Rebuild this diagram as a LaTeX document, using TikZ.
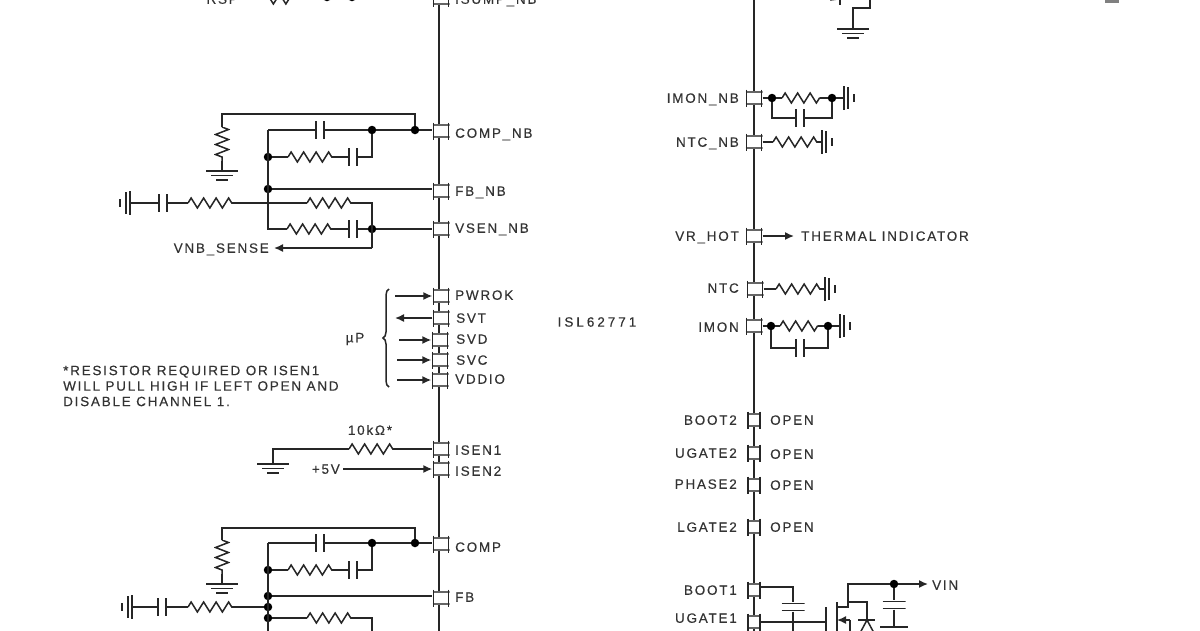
\documentclass[tikz,border=0pt]{standalone}
\usepackage{fontspec}
\setmainfont[LetterSpace=13,FakeBold=0.35]{Liberation Sans}
\usetikzlibrary{arrows.meta,decorations.pathmorphing,decorations.pathreplacing}
\begin{document}
\begin{tikzpicture}[
    x=1pt, y=-1pt,
    wire/.style={draw=black!85, line width=1.5pt},
    rail/.style={draw=black!85, line width=1.7pt},
    arrowwire/.style={wire, -{Latex[length=9pt,width=8pt]}},
    pinbox/.style={rectangle, minimum width=17pt, minimum height=17pt, inner sep=0pt, path picture={
        \fill[white] ([yshift=-2pt]path picture bounding box.north west) rectangle ([yshift=2pt]path picture bounding box.south east);
        \draw[wire, draw=black!60] ([yshift=-2.5pt]path picture bounding box.north west) -- ([yshift=-2.5pt]path picture bounding box.north east);
        \draw[wire, draw=black!60] ([yshift=2.5pt]path picture bounding box.south west) -- ([yshift=2.5pt]path picture bounding box.south east);
        \draw[wire] ([xshift=1pt]path picture bounding box.north west) -- ([xshift=1pt]path picture bounding box.south west);
        \draw[wire] ([xshift=-1pt]path picture bounding box.north east) -- ([xshift=-1pt]path picture bounding box.south east);}},
    smallpin/.style={pinbox, minimum width=14pt},
    dot/.style={circle, fill=black, minimum size=8.5pt, inner sep=0pt},
    txt/.style={text=black!80, font=\fontsize{13.5}{15}\selectfont, inner sep=0pt},
    rlabel/.style={txt, anchor=west, text height=9.5pt, text depth=0pt},
    llabel/.style={txt, anchor=east, text height=9.5pt, text depth=0pt},
    resh/.style={rectangle, minimum width=44pt, minimum height=14pt, inner sep=0pt, path picture={
        \draw[wire, decorate, decoration={zigzag, segment length=12.5pt, amplitude=5pt}] (path picture bounding box.west) -- (path picture bounding box.east);}},
    resv/.style={rectangle, minimum width=16pt, minimum height=34pt, inner sep=0pt, path picture={
        \draw[wire, decorate, decoration={zigzag, segment length=10pt, amplitude=6.5pt}] (path picture bounding box.north) -- (path picture bounding box.south);}},
    capv/.style={rectangle, minimum width=10pt, minimum height=18pt, inner sep=0pt, path picture={
        \draw[wire] ([xshift=1pt]path picture bounding box.north west) -- ([xshift=1pt]path picture bounding box.south west);
        \draw[wire] ([xshift=-1pt]path picture bounding box.north east) -- ([xshift=-1pt]path picture bounding box.south east);}},
    caph/.style={rectangle, minimum width=23pt, minimum height=9pt, inner sep=0pt, path picture={
        \draw[wire] ([yshift=-1pt]path picture bounding box.north west) -- ([yshift=-1pt]path picture bounding box.north east);
        \draw[wire] ([yshift=1pt]path picture bounding box.south west) -- ([yshift=1pt]path picture bounding box.south east);}},
    gnd/.style={rectangle, minimum width=32pt, minimum height=11pt, inner sep=0pt, anchor=north, path picture={
        \draw[wire] ([yshift=-1pt]path picture bounding box.north west) -- ([yshift=-1pt]path picture bounding box.north east);
        \draw[wire] ([xshift=5pt]path picture bounding box.west) -- ([xshift=-5pt]path picture bounding box.east);
        \draw[wire] ([xshift=10pt,yshift=1pt]path picture bounding box.south west) -- ([xshift=-10pt,yshift=1pt]path picture bounding box.south east);}},
    gndleft/.style={rectangle, minimum width=12pt, minimum height=24pt, inner sep=0pt, anchor=east, path picture={
        \draw[wire] ([xshift=-1pt]path picture bounding box.north east) -- ([xshift=-1pt]path picture bounding box.south east);
        \draw[wire] ([xshift=-5pt,yshift=-1pt]path picture bounding box.north east) -- ([xshift=-5pt,yshift=1pt]path picture bounding box.south east);
        \draw[wire, line width=2pt] ([xshift=1pt,yshift=-8pt]path picture bounding box.north west) -- ([xshift=1pt,yshift=8pt]path picture bounding box.south west);}},
    gndright/.style={rectangle, minimum width=12pt, minimum height=24pt, inner sep=0pt, anchor=west, path picture={
        \draw[wire] ([xshift=1pt]path picture bounding box.north west) -- ([xshift=1pt]path picture bounding box.south west);
        \draw[wire] ([xshift=5pt,yshift=-1pt]path picture bounding box.north west) -- ([xshift=5pt,yshift=1pt]path picture bounding box.south west);
        \draw[wire, line width=2pt] ([xshift=-1pt,yshift=-8pt]path picture bounding box.north east) -- ([xshift=-1pt,yshift=8pt]path picture bounding box.south east);}}
]
    \useasboundingbox (0,0) rectangle (1200,630);
    \clip (0,0) rectangle (1200,630);

    % rails behind the pins
    \coordinate (railltop) at (439,-10);
    \coordinate (raillbot) at (439,640);
    \coordinate (railrtop) at (754,-10);
    \coordinate (railrbot) at (754,640);
    \draw[rail] (railltop) -- (raillbot);
    \draw[rail] (railrtop) -- (railrbot);

    % left pins
    \node[pinbox] (isump) at (441,-2) {};
    \node[pinbox] (compnb) at (441,131) {};
    \node[pinbox] (fbnb) at (441,191) {};
    \node[pinbox] (vsennb) at (441,229) {};
    \node[pinbox] (pwrok) at (441,296) {};
    \node[pinbox] (svt) at (441,318) {};
    \node[pinbox] (svd) at (440,340) {};
    \node[pinbox] (svc) at (440,360) {};
    \node[pinbox] (vddio) at (440,380) {};
    \node[pinbox] (isen1) at (441,449) {};
    \node[pinbox] (isen2) at (441,469) {};
    \node[pinbox] (comp) at (441,544) {};
    \node[pinbox] (fb) at (441,598) {};

    \node[rlabel] (isumptxt) at (455,-1) {ISUMP\_NB};
    \node[rlabel] (compnbtxt) at (455,133) {COMP\_NB};
    \node[rlabel] (fbnbtxt) at (455,191) {FB\_NB};
    \node[rlabel] (vsennbtxt) at (455,228) {VSEN\_NB};
    \node[rlabel] (pwroktxt) at (455,295) {PWROK};
    \node[rlabel] (svttxt) at (456,318) {SVT};
    \node[rlabel] (svdtxt) at (456,339) {SVD};
    \node[rlabel] (svctxt) at (456,360) {SVC};
    \node[rlabel] (vddiotxt) at (455,379) {VDDIO};
    \node[rlabel] (isen1txt) at (455,450) {ISEN1};
    \node[rlabel] (isen2txt) at (455,471) {ISEN2};
    \node[rlabel] (comptxt) at (455,547) {COMP};
    \node[rlabel] (fbtxt) at (455,597) {FB};

    % top row, cut by the edge
    \node[llabel] (rsptxt) at (238,-1) {RSP};
    \node[resh, minimum width=36pt] (ressp) at (282,-1) {};
    \node[dot] (dtop1) at (327,-3) {};
    \node[dot] (dtop2) at (352,-3) {};
    \coordinate (wiretop) at (250,-1);
    \draw[wire] (wiretop) -- (ressp.west);
    \draw[wire] (ressp.east) -- (isump.west |- ressp);

    % COMP_NB network
    \coordinate (fbcnb) at (222,114);
    \coordinate (fbcnbr) at (415,114);
    \coordinate (nbleft) at (268,130);
    \coordinate (nbbot) at (268,229);
    \coordinate (nbrc) at (372,157);
    \coordinate (nbrr) at (372,203);
    \coordinate (nbsense) at (372,248);
    \node[resv] (rnbv) at (222,144) {};
    \node[gnd] (gndnbv) at (222,170) {};
    \node[capv] (cnb1) at (320,130) {};
    \node[dot] (dnb1) at (372,130) {};
    \node[dot] (dnb2) at (415,130) {};
    \node[dot] (dnb3) at (268,157) {};
    \node[resh] (rnb1) at (310,157) {};
    \node[capv] (cnb2) at (353,157) {};
    \node[dot] (dnb4) at (268,189) {};
    \node[gndleft] (gndnb) at (131,203) {};
    \node[capv] (cnb3) at (163,203) {};
    \node[resh] (rnb2) at (210,203) {};
    \node[resh] (rnb3) at (329,203) {};
    \node[resh] (rnb4) at (309,229) {};
    \node[capv] (cnb4) at (353,229) {};
    \node[dot] (dnb5) at (372,229) {};
    \node[llabel] (vnbtxt) at (269,248) {VNB\_SENSE};

    \draw[wire] (rnbv.north) -- (fbcnb) -- (fbcnbr) -- (dnb2);
    \draw[wire] (rnbv.south) -- (gndnbv.north);
    \draw[wire] (nbleft) -- (cnb1.west);
    \draw[wire] (cnb1.east) -- (dnb1) -- (dnb2) -- (dnb2 -| compnb.west);
    \draw[wire] (nbleft) -- (nbbot) -- (rnb4.west);
    \draw[wire] (dnb3) -- (rnb1.west);
    \draw[wire] (rnb1.east) -- (cnb2.west);
    \draw[wire] (cnb2.east) -- (nbrc) -- (dnb1);
    \draw[wire] (dnb4) -- (dnb4 -| fbnb.west);
    \draw[wire] (gndnb.east) -- (cnb3.west);
    \draw[wire] (cnb3.east) -- (rnb2.west);
    \draw[wire] (rnb2.east) -- (rnb3.west);
    \draw[wire] (rnb3.east) -- (nbrr) -- (nbsense);
    \draw[wire] (rnb4.east) -- (cnb4.west);
    \draw[wire] (cnb4.east) -- (dnb5) -- (vsennb.west);
    \draw[arrowwire, shorten >=5pt] (nbsense) -- (vnbtxt.east);

    % processor signals
    \coordinate (pwroka) at (395,296);
    \coordinate (svta) at (395,318);
    \coordinate (svda) at (399,340);
    \coordinate (svca) at (397,360);
    \coordinate (vddioa) at (397,380);
    \draw[arrowwire] (pwroka) -- (pwrok.west);
    \draw[arrowwire] (svt.west) -- (svta);
    \draw[arrowwire] (svda) -- (svd.west);
    \draw[arrowwire] (svca) -- (svc.west);
    \draw[arrowwire] (vddioa) -- (vddio.west);
    \coordinate (bracebot) at (389,387);
    \coordinate (bracetop) at (389,289);
    \draw[wire, decorate, decoration={brace, amplitude=6pt}] (bracebot) -- (bracetop);
    \node[txt] (uptxt) at (355,339) {µP};

    % note
    \node[txt, anchor=north west, align=left, font=\fontsize{13.5}{15.5}\selectfont] (notetxt) at (63,365.5) {*RESISTOR REQUIRED OR ISEN1\\WILL PULL HIGH IF LEFT OPEN AND\\DISABLE CHANNEL 1.};
    \node[txt, font=\fontsize{13.5}{15}\selectfont\addfontfeature{LetterSpace=22}] (chiptxt) at (597,322) {ISL62771};

    % ISEN pins
    \coordinate (gndisen) at (273,449);
    \node[gnd] (gndisenb) at (273,463) {};
    \node[resh] (risen) at (371,449) {};
    \node[txt] (rtxt) at (370,430) {10kΩ*};
    \node[llabel] (vtxt) at (340,469) {+5V};
    \draw[wire] (gndisenb.north) -- (gndisen) -- (risen.west);
    \draw[wire] (risen.east) -- (isen1.west);
    \draw[arrowwire, shorten <=3pt] (vtxt.east) -- (isen2.west);

    % COMP network
    \coordinate (fbc) at (222,528);
    \coordinate (fbcr) at (415,528);
    \coordinate (cleft) at (268,543);
    \coordinate (cbot) at (268,640);
    \coordinate (crc) at (372,570);
    \coordinate (crr) at (372,618);
    \coordinate (crrb) at (372,640);
    \node[resv] (rcv) at (222,557) {};
    \node[gnd] (gndcv) at (222,583) {};
    \node[capv] (cc1) at (320,543) {};
    \node[dot] (dc1) at (372,543) {};
    \node[dot] (dc2) at (415,543) {};
    \node[dot] (dc3) at (268,570) {};
    \node[resh] (rc1) at (310,570) {};
    \node[capv] (cc2) at (353,570) {};
    \node[dot] (dc4) at (268,596) {};
    \node[dot] (dc5) at (268,607) {};
    \node[dot] (dc6) at (268,618) {};
    \node[gndleft] (gndc) at (133,607) {};
    \node[capv] (cc3) at (162,607) {};
    \node[resh] (rc2) at (210,607) {};
    \node[resh] (rc3) at (329,618) {};

    \draw[wire] (rcv.north) -- (fbc) -- (fbcr) -- (dc2);
    \draw[wire] (rcv.south) -- (gndcv.north);
    \draw[wire] (cleft) -- (cc1.west);
    \draw[wire] (cc1.east) -- (dc1) -- (dc2) -- (dc2 -| comp.west);
    \draw[wire] (cleft) -- (cbot);
    \draw[wire] (dc3) -- (rc1.west);
    \draw[wire] (rc1.east) -- (cc2.west);
    \draw[wire] (cc2.east) -- (crc) -- (dc1);
    \draw[wire] (dc4) -- (dc4 -| fb.west);
    \draw[wire] (gndc.east) -- (cc3.west);
    \draw[wire] (cc3.east) -- (rc2.west);
    \draw[wire] (rc2.east) -- (dc5);
    \draw[wire] (dc6) -- (rc3.west);
    \draw[wire] (rc3.east) -- (crr) -- (crrb);

    % right pins
    \node[pinbox] (imonnb) at (754,98) {};
    \node[pinbox] (ntcnb) at (754,142) {};
    \node[pinbox] (vrhot) at (754,236) {};
    \node[pinbox] (ntc) at (755,289) {};
    \node[pinbox] (imon) at (754,326) {};
    \node[smallpin] (boot2) at (754,420) {};
    \node[smallpin] (ugate2) at (754,453) {};
    \node[smallpin] (phase2) at (754,485) {};
    \node[smallpin] (lgate2) at (754,527) {};
    \node[smallpin] (boot1) at (754,590) {};
    \node[smallpin] (ugate1) at (754,622) {};

    \node[llabel] (imonnbtxt) at (739,98) {IMON\_NB};
    \node[llabel] (ntcnbtxt) at (739,142) {NTC\_NB};
    \node[llabel] (vrhottxt) at (739,236) {VR\_HOT};
    \node[llabel] (ntctxt) at (739,288) {NTC};
    \node[llabel] (imontxt) at (739,327) {IMON};
    \node[llabel] (boot2txt) at (737,420) {BOOT2};
    \node[llabel] (ugate2txt) at (737,453) {UGATE2};
    \node[llabel] (phase2txt) at (737,484) {PHASE2};
    \node[llabel] (lgate2txt) at (737,527) {LGATE2};
    \node[llabel] (boot1txt) at (737,590) {BOOT1};
    \node[llabel] (ugate1txt) at (737,618) {UGATE1};
    \node[rlabel] (open2txt) at (770,420) {OPEN};
    \node[rlabel] (open3txt) at (770,454) {OPEN};
    \node[rlabel] (open4txt) at (770,485) {OPEN};
    \node[rlabel] (open5txt) at (770,527) {OPEN};
    \node[rlabel] (thermtxt) at (801,236) {THERMAL INDICATOR};

    % IMON_NB and NTC_NB
    \node[dot] (dim1) at (772,98) {};
    \node[resh, minimum width=38pt] (rim1) at (801,98) {};
    \node[dot] (dim2) at (832,98) {};
    \node[gndright] (gndim1) at (843,98) {};
    \coordinate (imbl) at (772,118);
    \coordinate (imbr) at (832,118);
    \node[capv] (cim1) at (800,118) {};
    \draw[wire] (imonnb.east) -- (dim1) -- (rim1.west);
    \draw[wire] (rim1.east) -- (dim2) -- (gndim1.west);
    \draw[wire] (dim1) -- (imbl) -- (cim1.west);
    \draw[wire] (cim1.east) -- (imbr) -- (dim2);
    \node[resh] (rntcnb) at (795,142) {};
    \node[gndright] (gndntcnb) at (821,142) {};
    \draw[wire] (ntcnb.east) -- (rntcnb.west);
    \draw[wire] (rntcnb.east) -- (gndntcnb.west);

    % VR_HOT
    \coordinate (hotend) at (794,236);
    \draw[arrowwire] (vrhot.east) -- (hotend);

    % NTC and IMON
    \node[resh] (rntc) at (798,289) {};
    \node[gndright] (gndntc) at (824,289) {};
    \draw[wire] (ntc.east) -- (rntc.west);
    \draw[wire] (rntc.east) -- (gndntc.west);
    \node[dot] (dim3) at (771,326) {};
    \node[resh, minimum width=38pt] (rim2) at (799,326) {};
    \node[dot] (dim4) at (828,326) {};
    \node[gndright] (gndim2) at (839,326) {};
    \coordinate (im2bl) at (771,348);
    \coordinate (im2br) at (828,348);
    \node[capv] (cim2) at (800,348) {};
    \draw[wire] (imon.east) -- (dim3) -- (rim2.west);
    \draw[wire] (rim2.east) -- (dim4) -- (gndim2.west);
    \draw[wire] (dim3) -- (im2bl) -- (cim2.west);
    \draw[wire] (cim2.east) -- (im2br) -- (dim4);

    % boot capacitor and high side switch
    \coordinate (bootc) at (793,587);
    \coordinate (bootb) at (793,640);
    \node[caph] (cboot) at (793,607) {};
    \draw[wire] (boot1.east |- bootc) -- (bootc) -- (cboot.north);
    \draw[wire] (cboot.south) -- (bootb);
    \coordinate (gatetop) at (826,607);
    \coordinate (gatebot) at (826,640);
    \coordinate (gatein) at (826,622);
    \coordinate (chtop) at (837,602);
    \coordinate (chbot) at (837,640);
    \coordinate (drainl) at (837,607);
    \coordinate (drainr) at (848,607);
    \coordinate (drainm) at (848,602);
    \coordinate (draint) at (848,584);
    \coordinate (diodeu) at (867,602);
    \coordinate (diodebar) at (867,620);
    \coordinate (diodel) at (858,620);
    \coordinate (diodem) at (875,620);
    \coordinate (sourcel) at (837,620);
    \coordinate (sourcer) at (850,620);
    \coordinate (sourceb) at (850,640);
    \node[dot] (dvin) at (894,584) {};
    \coordinate (vinend) at (928,584);
    \node[rlabel] (vintxt) at (932,585) {VIN};
    \node[caph] (cvin) at (894,605) {};
    \coordinate (vinb) at (894,627);
    \coordinate (vinbl) at (880,627);
    \coordinate (vinbr) at (908,627);
    \draw[wire, line width=1.8pt] (gatetop) -- (gatebot);
    \draw[wire] (ugate1.east) -- (gatein);
    \draw[wire, line width=1.8pt] (chtop) -- (chbot);
    \draw[wire] (drainl) -- (drainr) -- (draint) -- (dvin);
    \draw[arrowwire] (dvin) -- (vinend);
    \draw[wire] (drainm) -- (diodeu) -- (diodebar);
    \draw[wire] (diodel) -- (diodem);
    \draw[wire, fill=white] (diodebar) -- (860,633) -- (874,633) -- cycle;
    \draw[wire] (sourcer) -- (sourceb);
    \draw[arrowwire] (sourcer) -- (sourcel);
    \draw[wire] (dvin) -- (cvin.north);
    \draw[wire] (cvin.south) -- (vinb);
    \draw[wire, line width=1.8pt] (vinbl) -- (vinbr);

    % bits at the top edge on the right
    \coordinate (topa) at (840,-5);
    \coordinate (topb) at (840,5);
    \coordinate (topc) at (830,0);
    \coordinate (topd) at (853,8);
    \coordinate (tope) at (870,8);
    \coordinate (topf) at (870,-5);
    \node[gnd] (gndtop) at (853,28) {};
    \draw[wire] (topa) -- (topb);
    \draw[wire] (topc) -- (topf);
    \draw[wire] (topf) -- (tope) -- (topd) -- (gndtop.north);
    \node[rectangle, fill=black!50, minimum width=14pt, minimum height=3pt, inner sep=0pt] (topbar) at (1112,1) {};
\end{tikzpicture}
\end{document}
